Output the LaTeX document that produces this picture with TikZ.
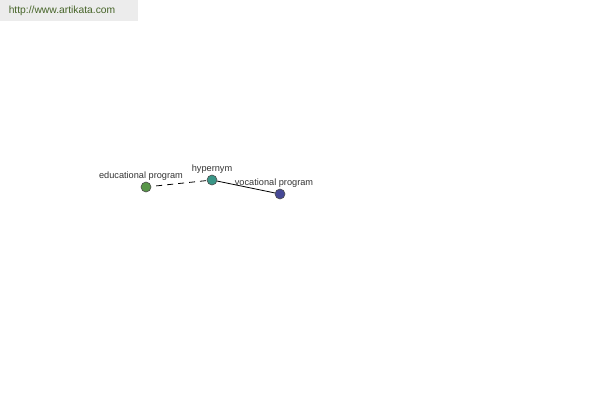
\documentclass[tikz,border=0pt]{standalone}
\usepackage{fontspec}
\setmainfont{Liberation Sans}
\usetikzlibrary{positioning}
\definecolor{edugreen}{RGB}{88,150,72}
\definecolor{hypteal}{RGB}{58,150,135}
\definecolor{vocblue}{RGB}{70,72,150}
\definecolor{bannergray}{RGB}{236,236,236}
\definecolor{linkgreen}{RGB}{70,100,40}
\tikzset{
  wnode/.style={circle,draw=black!70,line width=0.6pt,minimum size=10pt,inner sep=0pt},
  wlabel/.style={font=\fontsize{9.2}{10}\selectfont,text=black!80,inner sep=0pt},
  wlink/.style={line width=0.8pt}
}
\begin{document}
\begin{tikzpicture}[x=1pt,y=-1pt]
        \useasboundingbox (0,0) rectangle (600,400);
        \fill[bannergray] (0,0) rectangle (138,21);
        \node[font=\fontsize{10.3}{11}\selectfont,text=linkgreen,inner sep=0pt] (site) at (62,11) {http://www.artikata.com};
        \node[wnode,fill=edugreen] (edu) at (146,187) {};
        \node[wnode,fill=hypteal] (hyp) at (212,180) {};
        \node[wnode,fill=vocblue] (voc) at (280,194) {};
        \draw[wlink,dash pattern=on 6pt off 5pt,shorten <=5pt] (edu) -- (hyp);
        \draw[wlink] (hyp) -- (voc);
        \node[wlabel] (edulab) at (141,176) {educational program};
        \node[wlabel] (hyplab) at (212,169) {hypernym};
        \node[wlabel] (voclab) at (274,183) {vocational program};
      \end{tikzpicture}
\end{document}
